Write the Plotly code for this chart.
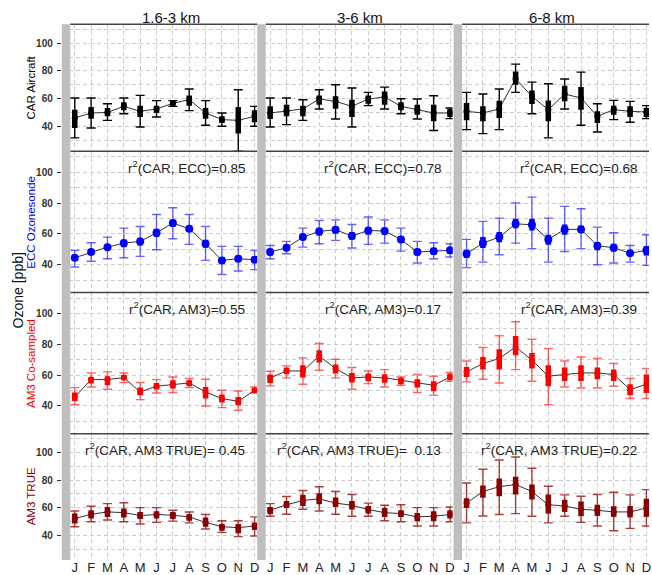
import plotly.graph_objects as go

# ---------------- data ----------------
months = list(range(1, 13))
month_labels = ["J", "F", "M", "A", "M", "J", "J", "A", "S", "O", "N", "D"]
column_titles = ["1.6-3 km", "3-6 km", "6-8 km"]
row_titles = ["CAR Aircraft", "ECC Ozonesonde", "AM3 Co-sampled", "AM3 TRUE"]
y_tick_vals = [40, 60, 80, 100]

# CAR Aircraft
car1_lo = [31.6, 38.8, 44.3, 49.1, 39.5, 46.7, 54.4, 51.3, 40.7, 40.0, 22.0, 40.0]
car1_q1 = [38.8, 45.5, 47.2, 51.5, 46.7, 49.6, 54.9, 54.9, 45.5, 42.4, 34.7, 42.9]
car1_md = [46.0, 49.6, 50.0, 54.4, 50.8, 52.5, 56.6, 59.2, 49.6, 44.8, 44.3, 47.2]
car1_q3 = [52.0, 53.9, 53.2, 57.3, 54.9, 54.9, 58.0, 62.3, 53.2, 47.2, 53.9, 51.5]
car1_hi = [60.4, 60.4, 56.3, 60.4, 62.3, 58.5, 58.5, 66.9, 58.5, 49.6, 66.4, 54.4]

car2_lo = [39.5, 41.2, 44.3, 52.5, 45.3, 39.5, 54.9, 52.5, 49.1, 45.3, 36.9, 45.5]
car2_q1 = [45.3, 47.2, 47.2, 55.6, 52.7, 46.7, 56.3, 55.6, 51.5, 48.4, 43.6, 46.7]
car2_md = [49.6, 50.8, 52.5, 59.7, 58.0, 54.4, 59.7, 61.1, 54.4, 52.0, 49.6, 49.6]
car2_q3 = [54.4, 55.6, 54.9, 62.3, 61.6, 59.2, 62.3, 65.2, 57.3, 55.6, 55.6, 52.5]
car2_hi = [60.4, 60.4, 59.2, 66.4, 70.0, 67.6, 64.5, 68.3, 59.9, 59.7, 62.1, 53.2]

car3_lo = [37.6, 34.7, 37.6, 64.5, 49.1, 31.6, 52.5, 40.7, 35.9, 44.8, 42.9, 45.5]
car3_q1 = [44.3, 43.6, 46.0, 70.0, 56.1, 43.6, 58.0, 52.0, 42.4, 48.4, 46.7, 46.7]
car3_md = [50.8, 49.6, 52.5, 74.3, 61.6, 52.0, 63.3, 60.4, 47.2, 52.0, 50.8, 50.3]
car3_q3 = [56.8, 54.4, 58.5, 79.6, 65.9, 58.7, 69.3, 68.3, 50.8, 54.9, 54.4, 53.2]
car3_hi = [64.5, 63.3, 66.9, 84.9, 71.9, 70.7, 74.1, 79.1, 56.3, 58.7, 58.0, 54.9]

# ECC Ozonesonde
ecc1_lo = [38.5, 42.2, 43.9, 44.5, 45.4, 49.7, 56.8, 53.2, 42.8, 33.7, 35.9, 36.8]
ecc1_q1 = [42.8, 46.5, 49.7, 51.4, 52.5, 57.9, 64.4, 61.2, 51.0, 40.6, 41.7, 41.3]
ecc1_md = [44.5, 48.2, 51.4, 54.0, 55.1, 60.7, 67.0, 63.3, 53.6, 42.8, 43.9, 43.2]
ecc1_q3 = [46.0, 49.7, 53.0, 56.2, 57.5, 63.3, 69.1, 65.0, 56.2, 45.0, 46.0, 45.4]
ecc1_hi = [49.3, 54.2, 57.9, 63.7, 64.8, 72.6, 76.9, 72.6, 64.8, 51.9, 51.9, 49.3]

ecc2_lo = [43.9, 47.1, 51.4, 53.6, 55.8, 50.8, 53.2, 54.0, 48.8, 41.1, 43.9, 45.0]
ecc2_q1 = [46.0, 49.3, 55.8, 59.0, 60.1, 56.4, 59.4, 59.6, 54.0, 46.0, 46.7, 47.1]
ecc2_md = [48.2, 51.0, 57.9, 61.6, 62.7, 58.6, 62.2, 61.8, 56.4, 48.2, 48.8, 49.3]
ecc2_q3 = [50.4, 53.0, 60.1, 64.0, 64.8, 61.2, 64.4, 64.0, 58.6, 50.4, 51.0, 51.4]
ecc2_hi = [52.5, 55.1, 63.7, 68.7, 69.1, 66.1, 70.9, 69.1, 63.7, 55.1, 54.2, 53.6]

ecc3_lo = [38.1, 41.7, 46.5, 54.0, 50.4, 41.7, 48.6, 50.4, 40.0, 41.1, 41.7, 39.6]
ecc3_q1 = [44.3, 50.8, 54.6, 63.7, 62.2, 53.0, 59.4, 60.7, 49.3, 48.6, 45.6, 46.0]
ecc3_md = [47.1, 54.0, 57.9, 66.5, 65.9, 56.4, 62.9, 62.9, 52.3, 51.0, 47.5, 49.3]
ecc3_q3 = [49.7, 57.9, 61.2, 69.8, 69.8, 59.4, 66.1, 65.5, 54.7, 53.6, 49.3, 52.1]
ecc3_hi = [56.4, 68.1, 70.2, 80.1, 83.8, 70.2, 77.8, 76.3, 64.4, 60.7, 52.5, 59.4]

# AM3 Co-sampled
am31_lo = [40.9, 52.3, 50.8, 55.2, 44.1, 48.4, 48.7, 51.9, 40.0, 38.9, 37.2, 48.4]
am31_q1 = [43.2, 54.5, 53.4, 56.7, 46.9, 50.6, 51.3, 52.8, 44.8, 42.2, 40.4, 48.7]
am31_md = [45.8, 57.1, 57.1, 58.4, 49.1, 52.8, 53.9, 54.9, 49.1, 44.8, 43.0, 50.2]
am31_q3 = [48.7, 58.8, 59.3, 59.9, 51.9, 54.9, 56.7, 56.7, 52.3, 47.4, 45.8, 51.7]
am31_hi = [51.9, 61.4, 62.1, 61.4, 55.2, 57.1, 58.8, 57.8, 57.3, 50.2, 49.7, 52.3]

am32_lo = [53.0, 58.2, 54.1, 63.2, 58.2, 50.8, 54.5, 52.3, 53.4, 48.7, 46.9, 56.0]
am32_q1 = [54.9, 60.6, 58.4, 68.2, 61.0, 55.2, 56.0, 55.0, 54.1, 51.9, 49.5, 56.7]
am32_md = [58.2, 62.7, 62.7, 72.3, 64.3, 58.2, 58.8, 58.2, 56.7, 54.9, 53.4, 58.8]
am32_q3 = [60.4, 64.9, 66.4, 76.2, 66.9, 61.4, 61.0, 60.6, 58.2, 57.3, 56.0, 61.0]
am32_hi = [62.5, 66.0, 71.2, 80.5, 70.3, 64.9, 62.7, 63.6, 58.8, 60.4, 59.3, 61.7]

am33_lo = [55.6, 57.3, 54.9, 63.6, 56.0, 40.9, 52.3, 51.7, 51.7, 52.8, 44.8, 44.8]
am33_q1 = [58.8, 63.6, 63.6, 72.9, 64.3, 52.8, 56.2, 56.2, 57.3, 56.2, 46.9, 48.4]
am33_md = [62.1, 67.5, 70.8, 78.3, 69.7, 59.3, 60.4, 61.4, 61.4, 60.4, 50.6, 54.1]
am33_q3 = [65.3, 71.8, 76.8, 85.3, 74.4, 66.4, 64.9, 66.4, 64.9, 63.6, 54.1, 60.4]
am33_hi = [69.2, 77.9, 85.5, 94.6, 83.3, 77.3, 69.2, 71.8, 70.8, 67.5, 57.8, 64.3]

# AM3 TRUE
tru1_lo = [46.2, 49.8, 51.0, 49.8, 48.1, 49.3, 50.2, 49.0, 44.5, 42.1, 39.0, 39.5]
tru1_q1 = [48.6, 52.1, 53.3, 52.9, 51.7, 52.1, 51.7, 50.5, 46.2, 43.3, 41.4, 43.8]
tru1_md = [52.1, 55.2, 56.9, 56.4, 54.3, 55.0, 54.5, 53.3, 49.3, 46.2, 45.5, 46.7]
tru1_q3 = [55.7, 58.1, 60.5, 59.3, 56.9, 57.4, 56.9, 55.2, 52.9, 48.1, 48.1, 49.3]
tru1_hi = [57.6, 61.0, 62.9, 63.6, 60.0, 60.0, 58.1, 56.9, 55.0, 50.5, 50.5, 53.3]

tru2_lo = [53.8, 55.2, 58.8, 57.6, 55.2, 53.8, 53.8, 50.5, 49.8, 46.7, 46.7, 49.8]
tru2_q1 = [55.2, 59.8, 61.2, 62.4, 60.5, 58.6, 55.7, 53.3, 53.3, 50.2, 50.2, 52.1]
tru2_md = [58.1, 62.1, 65.2, 66.4, 63.3, 61.7, 58.6, 56.4, 55.7, 53.3, 53.8, 55.0]
tru2_q3 = [60.5, 64.8, 69.3, 70.5, 67.4, 64.8, 61.2, 59.8, 58.1, 56.2, 57.4, 58.1]
tru2_hi = [62.9, 68.1, 72.4, 75.2, 71.7, 69.5, 63.3, 61.7, 62.1, 60.0, 60.0, 60.5]

tru3_lo = [49.0, 54.0, 55.0, 55.7, 53.8, 49.0, 53.8, 49.3, 46.7, 43.3, 45.0, 46.7]
tru3_q1 = [59.8, 67.1, 68.3, 69.5, 66.0, 55.7, 56.9, 53.8, 54.0, 53.3, 52.9, 53.3]
tru3_md = [63.3, 71.7, 75.2, 76.7, 71.7, 62.1, 61.2, 58.8, 58.1, 56.9, 56.9, 59.8]
tru3_q3 = [66.9, 76.0, 81.2, 82.4, 76.7, 69.5, 65.7, 64.5, 62.1, 61.0, 61.2, 66.4]
tru3_hi = [77.9, 87.9, 94.5, 96.7, 88.6, 75.5, 69.3, 68.3, 69.5, 71.2, 69.3, 73.1]

r2_texts = [
    [None, None, None],
    ["r<sup>2</sup>(CAR, ECC)=0.85", "r<sup>2</sup>(CAR, ECC)=0.78", "r<sup>2</sup>(CAR, ECC)=0.68"],
    ["r<sup>2</sup>(CAR, AM3)=0.55", "r<sup>2</sup>(CAR, AM3)=0.17", "r<sup>2</sup>(CAR, AM3)=0.39"],
    ["r<sup>2</sup>(CAR, AM3 TRUE)= 0.45", "r<sup>2</sup>(CAR, AM3 TRUE)=  0.13", "r<sup>2</sup>(CAR, AM3 TRUE)=0.22"],
]

panels = [
    [(car1_lo, car1_q1, car1_md, car1_q3, car1_hi), (car2_lo, car2_q1, car2_md, car2_q3, car2_hi), (car3_lo, car3_q1, car3_md, car3_q3, car3_hi)],
    [(ecc1_lo, ecc1_q1, ecc1_md, ecc1_q3, ecc1_hi), (ecc2_lo, ecc2_q1, ecc2_md, ecc2_q3, ecc2_hi), (ecc3_lo, ecc3_q1, ecc3_md, ecc3_q3, ecc3_hi)],
    [(am31_lo, am31_q1, am31_md, am31_q3, am31_hi), (am32_lo, am32_q1, am32_md, am32_q3, am32_hi), (am33_lo, am33_q1, am33_md, am33_q3, am33_hi)],
    [(tru1_lo, tru1_q1, tru1_md, tru1_q3, tru1_hi), (tru2_lo, tru2_q1, tru2_md, tru2_q3, tru2_hi), (tru3_lo, tru3_q1, tru3_md, tru3_q3, tru3_hi)],
]

# ---------------- style / geometry ----------------
W, H = 652, 575
FONT = "Liberation Sans, Arial, sans-serif"
row_colors = ["#000000", "#0000ff", "#ff0000", "#8b0000"]
whisk_colors = ["#000000", "rgba(0,0,255,0.6)", "rgba(255,0,0,0.6)", "rgba(139,0,0,0.75)"]
label_colors = ["#000000", "#0000ff", "#ff0000", "#8b0000"]
col_left = [62, 258, 455]
col_w = 196
strip_w = 8.5
row_top = [24.5, 152, 294, 436]
row_bot = [152, 294, 436, 563]
px_per_month = 16.4
x_range = [1 - 13 / px_per_month, 1 + (col_w - 13) / px_per_month]
y_range = [22, 113.6]
grid_color = "#cccccc"
grid_dash = "4px,3px"

fig = go.Figure()
layout = dict(
    width=W, height=H, margin=dict(l=0, r=0, t=0, b=0),
    paper_bgcolor="white", plot_bgcolor="white", showlegend=False,
    font=dict(family=FONT, color="#222222"),
)
shapes = []
annotations = []

for r in range(4):
    for c in range(3):
        idx = r * 3 + c + 1
        xa = "x" if idx == 1 else f"x{idx}"
        ya = "y" if idx == 1 else f"y{idx}"
        lo, q1, md, q3, hi = panels[r][c]
        # connecting line
        fig.add_trace(go.Scatter(x=months, y=md, mode="lines", xaxis=xa, yaxis=ya,
                                 line=dict(color="#333333", width=1), hoverinfo="skip"))
        # whiskers
        fig.add_trace(go.Scatter(
            x=months, y=md, mode="markers", xaxis=xa, yaxis=ya,
            marker=dict(size=1, color="rgba(0,0,0,0)"),
            error_y=dict(type="data", symmetric=False,
                         array=[h - m for h, m in zip(hi, md)],
                         arrayminus=[m - l for m, l in zip(md, lo)],
                         color=whisk_colors[r], thickness=1.4, width=4.5),
            hoverinfo="skip"))
        # boxes (interquartile)
        fig.add_trace(go.Scatter(
            x=months, y=md, mode="markers", xaxis=xa, yaxis=ya,
            marker=dict(size=8 if r == 1 else 6, color=row_colors[r],
                        line=dict(width=0)),
            error_y=dict(type="data", symmetric=False,
                         array=[b - m for b, m in zip(q3, md)],
                         arrayminus=[m - a for m, a in zip(md, q1)],
                         color=row_colors[r], thickness=5.5, width=0),
            hoverinfo="skip"))

        x0 = col_left[c] / W
        x1 = (col_left[c] + col_w) / W
        y0 = 1 - row_bot[r] / H
        y1 = 1 - row_top[r] / H
        layout["xaxis" if idx == 1 else f"xaxis{idx}"] = dict(
            domain=[x0, x1], range=x_range, anchor=ya, showline=False, zeroline=False,
            tickvals=months, ticktext=month_labels, showticklabels=(r == 3),
            ticks="", tickfont=dict(size=13, color="#222222", family=FONT),
            ticklabelstandoff=-2,
            showgrid=True, gridcolor=grid_color, griddash=grid_dash, gridwidth=1,
            fixedrange=True)
        layout["yaxis" if idx == 1 else f"yaxis{idx}"] = dict(
            domain=[y0, y1], range=y_range, anchor=xa, showline=False, zeroline=False,
            tickvals=y_tick_vals, showticklabels=(c == 0),
            ticks="outside" if c == 0 else "", ticklen=4, tickcolor="#333333", tickwidth=1,
            tickfont=dict(size=10, color="#333333", family=FONT, weight="bold"),
            ticklabelstandoff=2,
            showgrid=True, gridcolor=grid_color, griddash=grid_dash, gridwidth=1,
            minor=dict(tickvals=[30, 50, 70, 90, 110], showgrid=True, gridcolor=grid_color,
                       griddash=grid_dash, gridwidth=1, ticks=""),
            fixedrange=True)

        # top border line of panel
        shapes.append(dict(type="line", xref="paper", yref="paper",
                           x0=(col_left[c] + strip_w) / W, x1=x1, y0=y1, y1=y1,
                           line=dict(color="#444444", width=1.5), layer="above"))
        # r2 annotation
        if r2_texts[r][c]:
            annotations.append(dict(
                xref="paper", yref="paper", x=(col_left[c] + col_w - 10) / W,
                y=1 - (row_top[r] + 15.5) / H, xanchor="right", yanchor="middle",
                text=r2_texts[r][c], showarrow=False,
                font=dict(size=13.5, color="#222222", family=FONT)))

# gray strips at left of each column
for c in range(3):
    shapes.append(dict(type="rect", xref="paper", yref="paper",
                       x0=col_left[c] / W, x1=(col_left[c] + strip_w) / W,
                       y0=1 - row_bot[3] / H, y1=1 - row_top[0] / H,
                       fillcolor="#bebebe", line=dict(width=0), layer="above"))

# column titles
title_x = [172, 361, 554]
for c in range(3):
    annotations.append(dict(xref="paper", yref="paper", x=title_x[c] / W, y=1 - 17.5 / H,
                            xanchor="center", yanchor="middle", text=column_titles[c],
                            showarrow=False, font=dict(size=15, color="#111111", family=FONT)))

# row titles
row_label_y = [88, 223, 365, 499]
for r in range(4):
    annotations.append(dict(xref="paper", yref="paper", x=31 / W, y=1 - row_label_y[r] / H,
                            xanchor="center", yanchor="middle", text=row_titles[r], textangle=-90,
                            showarrow=False, font=dict(size=11.5, color=label_colors[r], family=FONT)))

annotations.append(dict(xref="paper", yref="paper", x=19 / W, y=1 - 292 / H,
                        xanchor="center", yanchor="middle", text="Ozone [ppb]", textangle=-90,
                        showarrow=False, font=dict(size=14, color="#111111", family=FONT)))

layout["shapes"] = shapes
layout["annotations"] = annotations
fig.update_layout(**layout)
fig.write_html("out.html", config={"displayModeBar": False, "staticPlot": True},
               post_script="document.body.style.margin='0';document.body.style.overflow='hidden';")
